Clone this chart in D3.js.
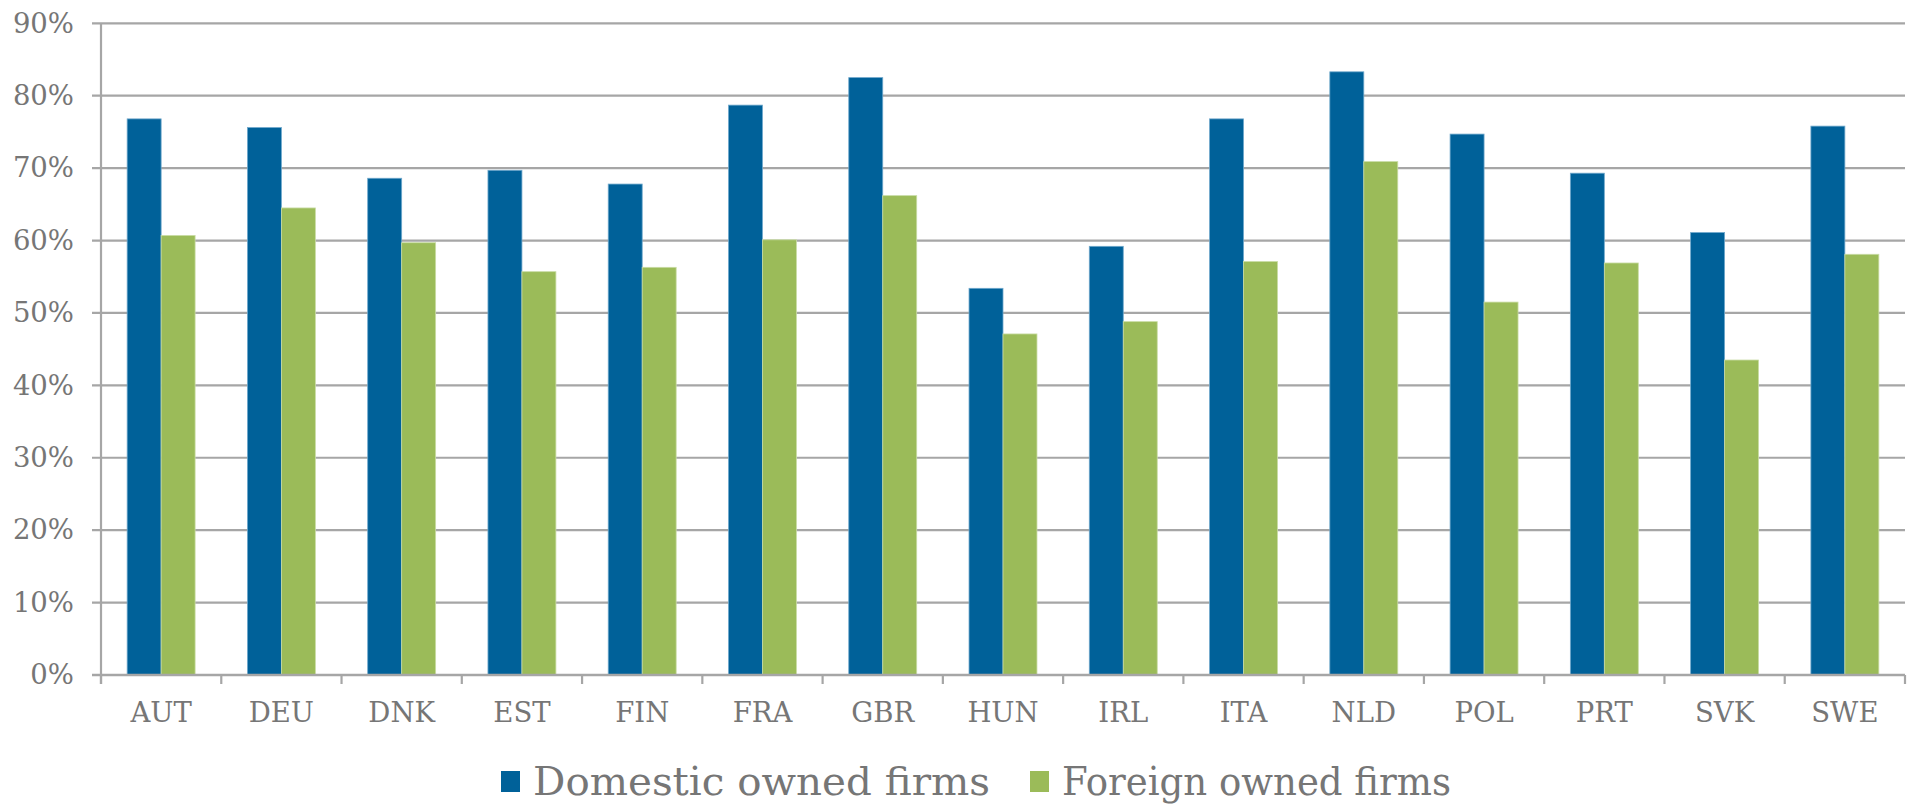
<!DOCTYPE html>
<html>
<head>
<meta charset="utf-8">
<script src="https://cdn.jsdelivr.net/npm/d3@7"></script>
<style>
  html, body { margin: 0; padding: 0; background: #fff; }
  svg { display: block; }
  text { font-family: "DejaVu Serif", "Liberation Serif", serif; fill: #767676; }
</style>
</head>
<body>
<svg id="chart" width="1911" height="804"></svg>
<script>
// Share of firms, by country and ownership
const countries = ["AUT","DEU","DNK","EST","FIN","FRA","GBR","HUN","IRL","ITA","NLD","POL","PRT","SVK","SWE"];
const domestic = [0.768, 0.756, 0.686, 0.697, 0.678, 0.787, 0.825, 0.534, 0.592, 0.768, 0.833, 0.747, 0.693, 0.611, 0.758];
const foreign  = [0.607, 0.645, 0.597, 0.557, 0.563, 0.601, 0.662, 0.471, 0.488, 0.571, 0.709, 0.515, 0.569, 0.435, 0.581];
const seriesNames = ["Domestic owned firms", "Foreign owned firms"];
const seriesColors = ["#006199", "#9bbb59"];
const yTicks = [0, 0.1, 0.2, 0.3, 0.4, 0.5, 0.6, 0.7, 0.8, 0.9];

const svg = d3.select("#chart");
const plot = { left: 101, right: 1905, top: 23.3, bottom: 675 };

const x0 = d3.scaleBand().domain(countries).range([plot.left, plot.right]).padding(0);
const x1 = d3.scaleBand().domain(seriesNames).range([0, x0.bandwidth()]).paddingInner(0).paddingOuter(0.77);
const y = d3.scaleLinear().domain([0, 0.9]).range([plot.bottom, plot.top]);

// horizontal gridlines
svg.append("g")
  .selectAll("line")
  .data(yTicks)
  .join("line")
  .attr("x1", plot.left - 9)
  .attr("x2", plot.right)
  .attr("y1", d => y(d))
  .attr("y2", d => y(d))
  .attr("stroke", "#a6a6a6")
  .attr("stroke-width", 2.2);

// y-axis labels
const yAxis = d3.axisLeft(y).tickValues(yTicks).tickFormat(d3.format(".0%")).tickSize(0).tickPadding(0);
const yg = svg.append("g").attr("transform", `translate(${plot.left - 27},0)`).call(yAxis);
yg.select(".domain").remove();
yg.selectAll("text").attr("font-size", 27.5).attr("fill", "#737373")
  .style("font-family", '"DejaVu Serif", serif');

// bars
const rows = countries.map((c, i) => ({ c, vals: [domestic[i], foreign[i]] }));
const groups = svg.append("g").selectAll("g")
  .data(rows)
  .join("g")
  .attr("transform", d => `translate(${x0(d.c)},0)`);

groups.selectAll("rect")
  .data(d => d.vals.map((v, k) => ({ v, k })))
  .join("rect")
  .attr("x", d => x1(seriesNames[d.k]))
  .attr("width", x1.bandwidth())
  .attr("y", d => y(d.v))
  .attr("height", d => y(0) - y(d.v))
  .attr("fill", d => seriesColors[d.k])
  .attr("stroke", d => d.k === 0 ? "#6fa8cc" : "#c9dca5")
  .attr("stroke-width", 0.8);

// y-axis line
svg.append("line")
  .attr("x1", plot.left).attr("x2", plot.left)
  .attr("y1", plot.top).attr("y2", plot.bottom + 9)
  .attr("stroke", "#a6a6a6").attr("stroke-width", 2.2);

// x-axis line and category ticks
svg.append("line")
  .attr("x1", plot.left - 9).attr("x2", plot.right)
  .attr("y1", plot.bottom).attr("y2", plot.bottom)
  .attr("stroke", "#a6a6a6").attr("stroke-width", 2.6);

const boundaries = countries.map(c => x0(c)).concat([plot.right]);
svg.append("g").selectAll("line")
  .data(boundaries)
  .join("line")
  .attr("x1", d => d).attr("x2", d => d)
  .attr("y1", plot.bottom).attr("y2", plot.bottom + 9)
  .attr("stroke", "#a6a6a6").attr("stroke-width", 2.2);

const xAxis = d3.axisBottom(x0).tickSize(0).tickPadding(0);
const xg = svg.append("g").attr("transform", `translate(0,${plot.bottom + 47})`).call(xAxis);
xg.select(".domain").remove();
xg.selectAll("text").attr("font-size", 27.5).attr("fill", "#737373").attr("dy", 0)
  .style("font-family", '"DejaVu Serif", serif');

// legend
const legendItems = [
  { name: seriesNames[0], color: seriesColors[0], x: 501, len: 457 },
  { name: seriesNames[1], color: seriesColors[1], x: 1030, len: 389 }
];
const lg = svg.append("g").selectAll("g")
  .data(legendItems)
  .join("g")
  .attr("transform", d => `translate(${d.x},0)`);
lg.append("rect")
  .attr("x", 0).attr("y", 771).attr("width", 19).attr("height", 21)
  .attr("fill", d => d.color);
lg.append("text")
  .attr("x", 32).attr("y", 795)
  .attr("font-size", 39)
  .attr("textLength", d => d.len)
  .attr("lengthAdjust", "spacingAndGlyphs")
  .text(d => d.name);
</script>
</body>
</html>
